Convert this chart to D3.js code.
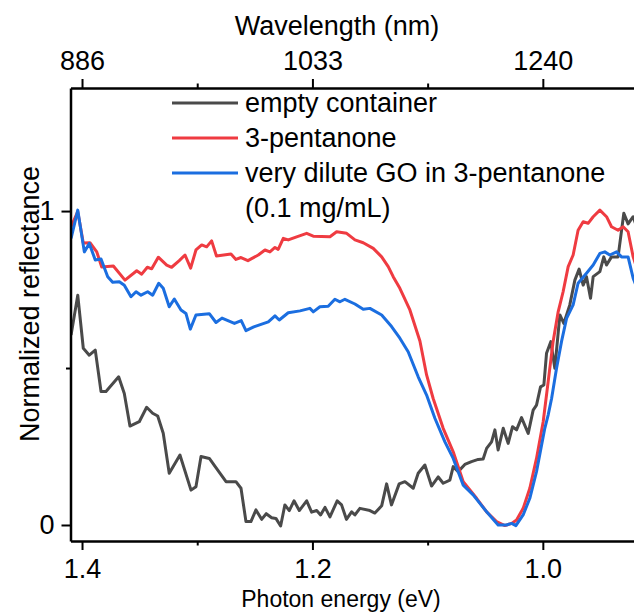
<!DOCTYPE html>
<html>
<head>
<meta charset="utf-8">
<script src="https://cdn.jsdelivr.net/npm/d3@7"></script>
<style>
  body { margin: 0; background: #fff; }
  text { font-family: "Liberation Sans", Arial, sans-serif; fill: #000; }
</style>
</head>
<body>
<div class="chart"></div>
<script>
var width = 634
var height = 613

// photon energy (eV), normalized reflectance
var emptyContainer = [
  [1.4095,0.605],[1.4037,0.732],[1.3989,0.563],[1.3937,0.541],[1.3885,0.557],[1.3835,0.425],
  [1.3792,0.425],[1.3682,0.472],[1.3633,0.419],[1.3584,0.315],[1.3503,0.329],[1.3439,0.375],
  [1.3387,0.356],[1.3343,0.347],[1.3295,0.292],[1.3243,0.165],[1.3150,0.223],[1.3054,0.111],
  [1.3011,0.122],[1.2967,0.218],[1.2895,0.212],[1.2822,0.175],[1.2750,0.138],[1.2664,0.138],
  [1.2620,0.117],[1.2577,0.011],[1.2534,0.011],[1.2490,0.048],[1.2441,0.018],[1.2401,0.036],
  [1.2354,0.023],[1.2317,0.021],[1.2276,-0.003],[1.2239,0.064],[1.2201,0.046],[1.2160,0.077],
  [1.2114,0.046],[1.2050,0.077],[1.2007,0.041],[1.1963,0.046],[1.1929,0.032],[1.1891,0.056],
  [1.1848,0.026],[1.1785,0.077],[1.1747,0.064],[1.1705,0.018],[1.1660,0.042],[1.1631,0.032],
  [1.1588,0.053],[1.1501,0.046],[1.1458,0.038],[1.1399,0.061],[1.1356,0.131],[1.1314,0.064],
  [1.1247,0.131],[1.1197,0.138],[1.1125,0.117],[1.1082,0.165],[1.1024,0.191],[1.0966,0.124],
  [1.0908,0.153],[1.0865,0.133],[1.0807,0.143],[1.0778,0.186],[1.0735,0.170],[1.0677,0.193],
  [1.0619,0.202],[1.0561,0.209],[1.0518,0.210],[1.0488,0.244],[1.0445,0.265],[1.0416,0.303],
  [1.0388,0.239],[1.0344,0.308],[1.0301,0.260],[1.0263,0.313],[1.0228,0.303],[1.0185,0.342],
  [1.0127,0.292],[1.0084,0.366],[1.0055,0.382],[1.0020,0.440],[0.9991,0.446],[0.9968,0.547],
  [0.9931,0.584],[0.9896,0.499],[0.9852,0.669],[0.9818,0.642],[0.9766,0.701],[0.9722,0.780],
  [0.9685,0.815],[0.9650,0.764],[0.9621,0.791],[0.9586,0.722],[0.9563,0.791],[0.9505,0.807],
  [0.9471,0.854],[0.9447,0.828],[0.9404,0.854],[0.9347,0.854],[0.9297,0.993],[0.9260,0.959],
  [0.9216,0.982],[0.9176,0.939]
]

var pentanone = [
  [1.4095,0.950],[1.4037,0.998],[1.3989,0.898],[1.3931,0.899],[1.3872,0.870],[1.3829,0.822],
  [1.3728,0.825],[1.3627,0.780],[1.3525,0.810],[1.3482,0.799],[1.3433,0.821],[1.3395,0.816],
  [1.3338,0.853],[1.3265,0.828],[1.3222,0.821],[1.3156,0.842],[1.3106,0.860],[1.3057,0.818],
  [1.3011,0.876],[1.2961,0.892],[1.2918,0.886],[1.2875,0.905],[1.2833,0.857],[1.2707,0.863],
  [1.2664,0.846],[1.2620,0.852],[1.2560,0.842],[1.2470,0.860],[1.2412,0.876],[1.2369,0.870],
  [1.2325,0.884],[1.2297,0.878],[1.2253,0.913],[1.2210,0.908],[1.2137,0.918],[1.2050,0.929],
  [1.1993,0.920],[1.1848,0.918],[1.1790,0.934],[1.1703,0.929],[1.1631,0.908],[1.1559,0.899],
  [1.1472,0.881],[1.1399,0.854],[1.1342,0.823],[1.1299,0.791],[1.1241,0.754],[1.1154,0.685],
  [1.1067,0.586],[1.1009,0.478],[1.0952,0.403],[1.0865,0.308],[1.0778,0.233],[1.0691,0.138],
  [1.0575,0.085],[1.0488,0.042],[1.0402,0.011],[1.0330,-0.002],[1.0271,0.005],[1.0228,0.016],
  [1.0171,0.053],[1.0113,0.117],[1.0055,0.212],[0.9997,0.329],[0.9954,0.456],[0.9911,0.584],
  [0.9867,0.679],[0.9824,0.743],[0.9780,0.823],[0.9737,0.860],[0.9694,0.939],[0.9650,0.966],
  [0.9607,0.961],[0.9563,0.982],[0.9505,1.003],[0.9447,0.982],[0.9404,0.950],[0.9347,0.939],
  [0.9303,0.950],[0.9260,0.934],[0.9216,0.854],[0.9176,0.810]
]

var diluteGO = [
  [1.4095,0.913],[1.4037,1.003],[1.3980,0.870],[1.3937,0.897],[1.3885,0.844],[1.3835,0.847],
  [1.3777,0.791],[1.3734,0.773],[1.3676,0.775],[1.3633,0.764],[1.3575,0.727],[1.3531,0.743],
  [1.3488,0.732],[1.3430,0.743],[1.3387,0.732],[1.3334,0.770],[1.3295,0.754],[1.3243,0.695],
  [1.3199,0.720],[1.3141,0.685],[1.3098,0.674],[1.3060,0.624],[1.3011,0.669],[1.2895,0.673],
  [1.2837,0.645],[1.2785,0.659],[1.2677,0.642],[1.2618,0.651],[1.2577,0.619],[1.2509,0.631],
  [1.2383,0.647],[1.2325,0.666],[1.2288,0.653],[1.2210,0.676],[1.2108,0.682],[1.2022,0.690],
  [1.1993,0.679],[1.1935,0.695],[1.1863,0.697],[1.1805,0.719],[1.1761,0.711],[1.1718,0.719],
  [1.1631,0.704],[1.1559,0.687],[1.1501,0.690],[1.1399,0.669],[1.1313,0.632],[1.1241,0.595],
  [1.1169,0.552],[1.1082,0.472],[1.1009,0.414],[1.0937,0.340],[1.0850,0.265],[1.0778,0.212],
  [1.0691,0.127],[1.0605,0.096],[1.0488,0.042],[1.0388,0.000],[1.0315,0.000],[1.0271,0.005],
  [1.0234,-0.002],[1.0171,0.032],[1.0113,0.085],[1.0055,0.170],[0.9983,0.308],[0.9954,0.350],
  [0.9924,0.403],[0.9881,0.499],[0.9838,0.584],[0.9794,0.658],[0.9737,0.701],[0.9694,0.770],
  [0.9621,0.802],[0.9563,0.828],[0.9505,0.865],[0.9462,0.870],[0.9419,0.860],[0.9360,0.870],
  [0.9317,0.854],[0.9260,0.854],[0.9216,0.786],[0.9176,0.748]
]

var seriesNames = ["empty container", "3-pentanone", "very dilute GO in 3-pentanone"]
var seriesColors = ["#4a4a4a", "#ef3b41", "#1b6ee0"]
var seriesData = [emptyContainer, pentanone, diluteGO]

var energyTicks = [1.4, 1.3, 1.2, 1.1, 1.0]
var energyLabels = [1.4, 1.2, 1.0]
var reflTicks = [0, 0.5, 1]
var reflLabels = [0, 1]

var svg = d3.select(".chart").append("svg")
    .attr("width", width)
    .attr("height", height)

var x = d3.scaleLinear().domain([1.41, 0.92]).range([70.5, 635])
var y = d3.scaleLinear().domain([-0.051, 1.392]).range([541, 88])

svg.append("clipPath").attr("id", "plotclip")
  .append("rect")
    .attr("x", x.range()[0]).attr("y", y.range()[1])
    .attr("width", x.range()[1] - x.range()[0])
    .attr("height", y.range()[0] - y.range()[1])

var line = d3.line()
    .x(function(d){ return x(d[0]) })
    .y(function(d){ return y(d[1]) })

svg.append("g").attr("clip-path", "url(#plotclip)")
  .selectAll("path")
  .data(seriesData)
  .enter().append("path")
    .attr("d", line)
    .attr("fill", "none")
    .attr("stroke", function(d, i){ return seriesColors[i] })
    .attr("stroke-width", 3)
    .attr("stroke-linejoin", "round")

function isMajor(list, v){
  return list.some(function(l){ return Math.abs(l - v) < 1e-6 })
}

function styleAxis(g, list, horizontal, sign){
  g.select(".domain").attr("stroke-width", 2.5)
  g.selectAll(".tick line").attr("stroke-width", 2)
    .each(function(d){
      var len = isMajor(list, d) ? 9 : 4.5
      if (horizontal) d3.select(this).attr("y2", sign * len)
      else d3.select(this).attr("x2", sign * len)
    })
  g.selectAll(".tick text").attr("font-size", 27)
}

var xAxis = svg.append("g")
    .attr("transform", "translate(0," + y.range()[0] + ")")
    .call(d3.axisBottom(x).tickValues(energyTicks).tickSizeOuter(0).tickPadding(12)
      .tickFormat(function(d){ return isMajor(energyLabels, d) ? d3.format(".1f")(d) : "" }))
styleAxis(xAxis, energyLabels, true, 1)

var topAxis = svg.append("g")
    .attr("transform", "translate(0," + y.range()[1] + ")")
    .call(d3.axisTop(x).tickValues(energyTicks).tickSizeOuter(0).tickPadding(12)
      .tickFormat(function(d){ return isMajor(energyLabels, d) ? Math.round(1240 / d) : "" }))
styleAxis(topAxis, energyLabels, true, -1)

var yAxis = svg.append("g")
    .attr("transform", "translate(" + x.range()[0] + ",0)")
    .call(d3.axisLeft(y).tickValues(reflTicks).tickSizeOuter(0).tickPadding(10)
      .tickFormat(function(d){ return isMajor(reflLabels, d) ? d : "" }))
styleAxis(yAxis, reflLabels, false, -1)

svg.append("text")
    .attr("x", 337).attr("y", 35)
    .attr("text-anchor", "middle")
    .attr("font-size", 27)
    .text("Wavelength (nm)")

svg.append("text")
    .attr("x", 341).attr("y", 607)
    .attr("text-anchor", "middle")
    .attr("font-size", 23)
    .text("Photon energy (eV)")

svg.append("text")
    .attr("transform", "translate(39,304) rotate(-90)")
    .attr("text-anchor", "middle")
    .attr("font-size", 27)
    .text("Normalized reflectance")

// legend
var legend = svg.append("g").attr("transform", "translate(172,103)")
var rows = legend.selectAll("g")
  .data(seriesNames)
  .enter().append("g")
    .attr("transform", function(d, i){ return "translate(0," + i * 35 + ")" })
rows.append("line")
    .attr("x1", 0).attr("x2", 66)
    .attr("stroke", function(d, i){ return seriesColors[i] })
    .attr("stroke-width", 3)
rows.append("text")
    .attr("x", 73).attr("dy", "0.35em")
    .attr("font-size", 27)
    .text(function(d){ return d })
legend.append("text")
    .attr("x", 73).attr("y", 105).attr("dy", "0.35em")
    .attr("font-size", 27)
    .text("(0.1 mg/mL)")
</script>
</body>
</html>
